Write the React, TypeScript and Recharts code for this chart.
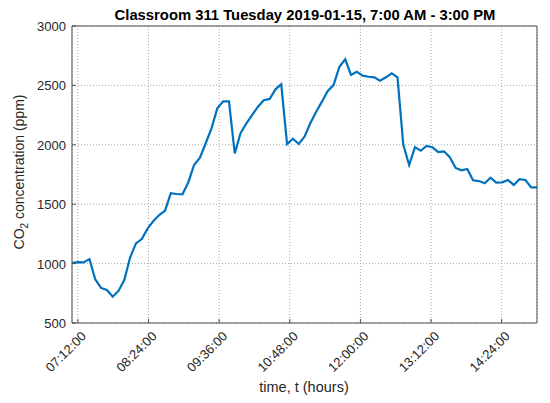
import React from 'react';
import { LineChart, Line, XAxis, YAxis, CartesianGrid, Customized } from 'recharts';

// Sample times, minutes after midnight
const timesMin = [
  426.0, 431.9, 437.9, 443.8, 449.7, 455.6, 461.6, 467.5, 473.4, 479.3,
  485.3, 491.2, 497.1, 503.0, 509.0, 514.9, 520.8, 526.7, 532.7, 538.6,
  544.5, 550.4, 556.4, 562.3, 568.2, 574.1, 580.1, 586.0, 591.9, 597.8,
  603.8, 609.7, 615.6, 621.5, 627.5, 633.4, 639.3, 645.2, 651.2, 657.1,
  663.0, 668.9, 674.9, 680.8, 686.7, 692.6, 698.6, 704.5, 710.4, 716.3,
  722.3, 728.2, 734.1, 740.0, 746.0, 751.9, 757.8, 763.7, 769.7, 775.6,
  781.5, 787.4, 793.4, 799.3, 805.2, 811.1, 817.1, 823.0, 828.9, 834.8,
  840.8, 846.7, 852.6, 858.5, 864.5, 870.4, 876.3, 882.2, 888.2, 894.1,
  900.0,
];

// CO2 concentration (ppm)
const co2Ppm = [
  1005, 1013, 1010, 1038, 868, 795, 778, 721, 770, 862,
  1053, 1170, 1207, 1294, 1358, 1409, 1445, 1592, 1586, 1583,
  1683, 1830, 1891, 2013, 2139, 2307, 2366, 2366, 1928, 2097,
  2181, 2251, 2321, 2375, 2386, 2467, 2509, 2007, 2051, 2007,
  2068, 2181, 2279, 2363, 2453, 2503, 2657, 2720, 2588, 2615,
  2582, 2573, 2568, 2540, 2568, 2602, 2568, 2000, 1830, 1980,
  1950, 1990, 1979, 1939, 1945, 1895, 1805, 1785, 1796, 1701,
  1695, 1676, 1723, 1681, 1684, 1704, 1662, 1710, 1704, 1642,
  1642,
];

const xTicks = [432, 504, 576, 648, 720, 792, 864];
const yTicks = [500, 1000, 1500, 2000, 2500, 3000];
const xDomain = [426, 900];
const yDomain = [500, 3000];

const title = 'Classroom 311 Tuesday 2019-01-15, 7:00 AM - 3:00 PM';
const xLabel = 'time, t (hours)';

const data = timesMin.map((t, i) => ({ t, co2: co2Ppm[i] }));

const FONT = '"Liberation Sans", Arial, Helvetica, sans-serif';
const AXIS = '#4d4d4d';
const TEXT = '#262626';

const pad = (n: number) => String(n).padStart(2, '0');
const fmt = (m: number) => `${pad(Math.floor(m / 60))}:${pad(Math.round(m % 60))}:00`;

const XTick = (props: any) => {
  const { x, y, payload } = props;
  const ax = x + 9;
  const ay = y;
  return (
    <text
      x={ax}
      y={ay}
      transform={`rotate(-45 ${ax} ${ay})`}
      textAnchor="end"
      fontSize={13}
      fill={TEXT}
      fontFamily={FONT}
    >
      {fmt(payload.value)}
    </text>
  );
};

const YTick = (props: any) => {
  const { x, y, payload } = props;
  return (
    <text x={x} y={y + 5} textAnchor="end" fontSize={13} fill={TEXT} fontFamily={FONT}>
      {payload.value}
    </text>
  );
};

const Labels = () => (
  <g fontFamily={FONT} fill={TEXT}>
    <text x={305} y={20} textAnchor="middle" fontSize={14.8} fontWeight="bold" fill="#000">
      {title}
    </text>
    <text x={304} y={392} textAnchor="middle" fontSize={14.5}>
      {xLabel}
    </text>
    <text x={24} y={172} textAnchor="middle" fontSize={14} transform="rotate(-90 24 172)">
      CO<tspan fontSize={10} dy={4}>2</tspan>
      <tspan dy={-4}> concentration (ppm)</tspan>
    </text>
  </g>
);

export default function App() {
  return (
    <div style={{ position: 'absolute', left: 0, top: 0, width: 550, height: 403, background: '#fff' }}>
      <LineChart
        width={550}
        height={403}
        data={data}
        margin={{ top: 25, right: 12, bottom: 0, left: 0 }}
      >
        <CartesianGrid stroke="#a8a8a8" strokeDasharray="1 2" />
        <XAxis
          dataKey="t"
          type="number"
          domain={xDomain}
          ticks={xTicks}
          allowDataOverflow
          height={80}
          tickSize={-4}
          tickMargin={18}
          tick={<XTick />}
          axisLine={{ stroke: AXIS }}
          tickLine={{ stroke: AXIS }}
          interval={0}
        />
        <XAxis
          xAxisId="top"
          orientation="top"
          type="number"
          domain={xDomain}
          ticks={xTicks}
          allowDataOverflow
          height={1}
          tickSize={-4}
          tick={false}
          axisLine={{ stroke: AXIS }}
          tickLine={{ stroke: AXIS }}
          interval={0}
        />
        <YAxis
          type="number"
          domain={yDomain}
          ticks={yTicks}
          allowDataOverflow
          width={72}
          tickSize={-4}
          tickMargin={10}
          tick={<YTick />}
          axisLine={{ stroke: AXIS }}
          tickLine={{ stroke: AXIS }}
          interval={0}
        />
        <YAxis
          yAxisId="right"
          orientation="right"
          type="number"
          domain={yDomain}
          ticks={yTicks}
          allowDataOverflow
          width={1}
          tickSize={-4}
          tick={false}
          axisLine={{ stroke: AXIS }}
          tickLine={{ stroke: AXIS }}
          interval={0}
        />
        <Line
          type="linear"
          dataKey="co2"
          stroke="#0072BD"
          strokeWidth={2.2}
          dot={false}
          isAnimationActive={false}
        />
        <Customized component={Labels} />
      </LineChart>
    </div>
  );
}
